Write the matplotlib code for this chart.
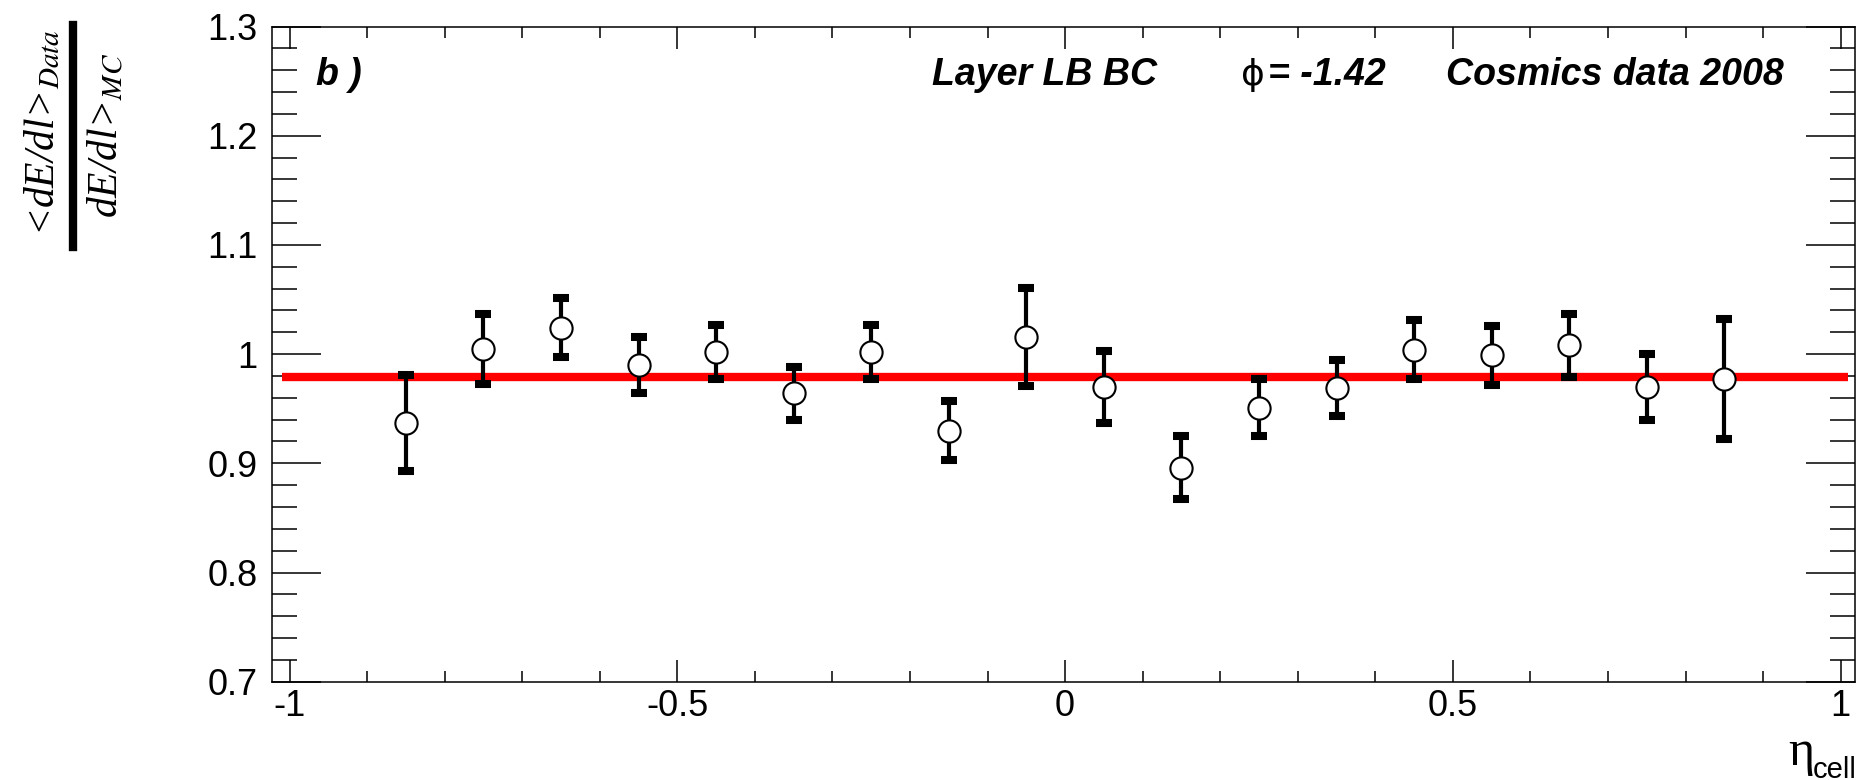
import matplotlib
matplotlib.use("Agg")
from matplotlib import pyplot as plt
from matplotlib.ticker import MultipleLocator, FuncFormatter
from matplotlib.lines import Line2D

# eta cell centres and the data/MC ratio
eta = [-0.85, -0.75, -0.65, -0.55, -0.45, -0.35, -0.25, -0.15, -0.05,
       0.05, 0.15, 0.25, 0.35, 0.45, 0.55, 0.65, 0.75, 0.85]
ratio = [0.937, 1.005, 1.024, 0.990, 1.002, 0.964, 1.002, 0.930, 1.016,
         0.970, 0.896, 0.951, 0.969, 1.004, 0.999, 1.008, 0.970, 0.977]
ratio_err = [0.044, 0.032, 0.027, 0.026, 0.025, 0.024, 0.025, 0.027, 0.045,
             0.033, 0.029, 0.026, 0.026, 0.027, 0.027, 0.029, 0.030, 0.055]

# constant fit
fit_value = 0.979
fit_range = [-1.01, 1.01]

plt.rcParams["font.family"] = ["Liberation Sans", "DejaVu Sans"]
plt.rcParams["mathtext.fontset"] = "stix"

fig = plt.figure(figsize=(18.61, 7.80), dpi=100)
ax = fig.add_axes([0.146, 0.126, 0.997 - 0.146, 0.966 - 0.126])

ax.plot(fit_range, [fit_value, fit_value], color="#ff0000", lw=6,
        solid_capstyle="butt", zorder=2)
ax.errorbar(eta, ratio, yerr=ratio_err, fmt="none", ecolor="black",
            elinewidth=3, capsize=6, capthick=5.8, zorder=3)
ax.plot(eta, ratio, "o", ms=16, mfc="white", mec="black", mew=1.5, zorder=4)

ax.set_xlim(-1.023, 1.019)
ax.set_ylim(0.7, 1.3)
ax.xaxis.set_major_locator(MultipleLocator(0.5))
ax.xaxis.set_minor_locator(MultipleLocator(0.1))
ax.yaxis.set_major_locator(MultipleLocator(0.1))
ax.yaxis.set_minor_locator(MultipleLocator(0.02))
ax.xaxis.set_major_formatter(FuncFormatter(lambda v, p: f"{v:g}"))
ax.yaxis.set_major_formatter(FuncFormatter(lambda v, p: f"{v:g}"))

ax.tick_params(which="both", direction="in", top=True, right=True, width=1.1,
               labelsize=26)
ax.tick_params(axis="x", which="major", length=16, pad=5)
ax.tick_params(axis="x", which="minor", length=8)
ax.tick_params(axis="y", which="major", length=35, pad=10)
ax.tick_params(axis="y", which="minor", length=18)
for s in ax.spines.values():
    s.set_linewidth(1.1)

# header texts
hdr = dict(fontsize=27, fontweight="bold", style="italic", va="center", ha="left")
ax.text(-0.966, 1.256, "b )", **hdr)
ax.text(-0.172, 1.256, "Layer LB BC", **hdr)
ax.text(0.227, 1.256, "\u03d5", fontsize=26, va="center", ha="left",
        family="DejaVu Sans")
ax.text(0.262, 1.256, "= -1.42", **hdr)
ax.text(0.491, 1.256, "Cosmics data 2008", **hdr)

# y label as a rotated fraction
ylab = dict(rotation=90, ha="center", va="center", fontsize=30,
            family="Liberation Serif", style="italic")
fig.text(0.0234, 0.830, r"<dE/dl>$_{Data}$", **ylab)
fig.text(0.057, 0.826, r"dE/dl>$_{MC}$", **ylab)
fig.add_artist(Line2D([0.0392, 0.0392], [0.683, 0.968], color="black",
                      lw=6, transform=fig.transFigure))

# x label
fig.text(0.961, 0.019, "\u03b7", family="Liberation Serif", fontsize=36,
         ha="left", va="baseline")
fig.text(0.974, 0.003, "cell", fontsize=21, ha="left", va="baseline")

fig.savefig("out.png", dpi=100)
